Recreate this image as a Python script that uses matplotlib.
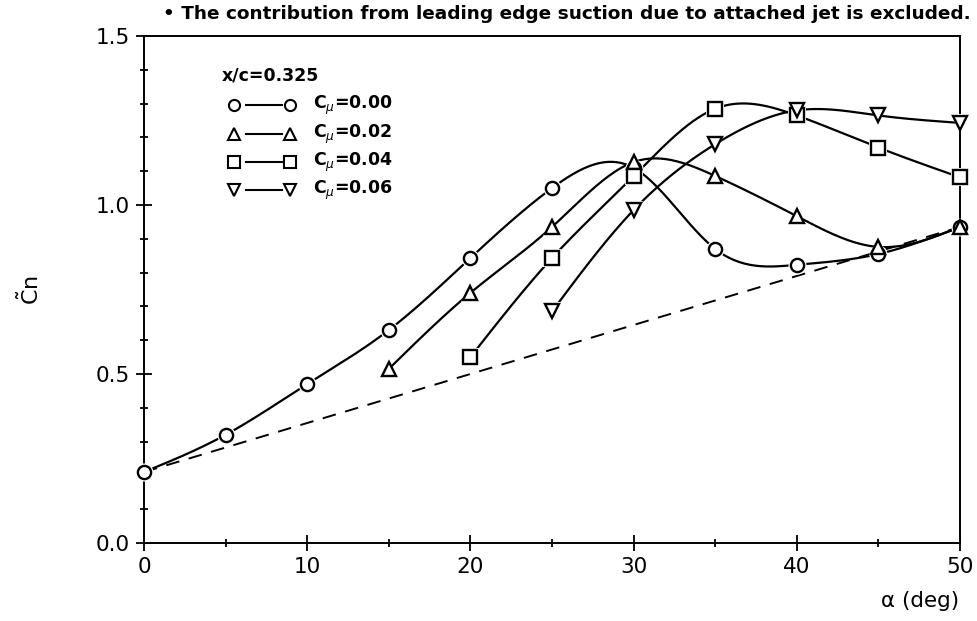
import numpy as np
import matplotlib
matplotlib.use("Agg")
import matplotlib.pyplot as plt
from matplotlib.ticker import MultipleLocator

plt.rcParams['font.family'] = ['DejaVu Sans']
plt.rcParams['mathtext.fontset'] = 'dejavusans'

# ---- data ----
alpha_c0 = [0, 5, 10, 15, 20, 25, 30, 35, 40, 45, 50]
cn_c0 = [0.21, 0.32, 0.47, 0.63, 0.843, 1.05, 1.11, 0.87, 0.823, 0.855, 0.935]
alpha_c2 = [15, 20, 25, 30, 35, 40, 45, 50]
cn_c2 = [0.515, 0.74, 0.935, 1.127, 1.086, 0.967, 0.876, 0.935]
alpha_c4 = [20, 25, 30, 35, 40, 45, 50]
cn_c4 = [0.55, 0.843, 1.085, 1.285, 1.265, 1.17, 1.082]
alpha_c6 = [25, 30, 35, 40, 45, 50]
cn_c6 = [0.685, 0.985, 1.18, 1.28, 1.265, 1.243]
alpha_ref = [0, 50]
cn_ref = [0.21, 0.935]

labels = ["0.00", "0.02", "0.04", "0.06"]
markers = ["o", "^", "s", "v"]


def natural_spline(x, y, n=300):
    x = np.asarray(x, float)
    y = np.asarray(y, float)
    m = len(x)
    h = np.diff(x)
    A = np.zeros((m, m))
    b = np.zeros(m)
    A[0, 0] = 1
    A[-1, -1] = 1
    for i in range(1, m - 1):
        A[i, i - 1] = h[i - 1]
        A[i, i] = 2 * (h[i - 1] + h[i])
        A[i, i + 1] = h[i]
        b[i] = 3 * ((y[i + 1] - y[i]) / h[i] - (y[i] - y[i - 1]) / h[i - 1])
    c = np.linalg.solve(A, b)
    xs = np.linspace(x[0], x[-1], n)
    ys = np.empty_like(xs)
    for k, xv in enumerate(xs):
        i = min(np.searchsorted(x, xv, side='right') - 1, m - 2)
        dx = xv - x[i]
        bi = (y[i + 1] - y[i]) / h[i] - h[i] * (2 * c[i] + c[i + 1]) / 3
        di = (c[i + 1] - c[i]) / (3 * h[i])
        ys[k] = y[i] + bi * dx + c[i] * dx ** 2 + di * dx ** 3
    return xs, ys


fig = plt.figure(figsize=(9.78, 6.21), dpi=100)
ax = fig.add_axes([0.1472, 0.1256, 0.8344, 0.8164])

ax.plot(alpha_ref, cn_ref, linestyle=(0, (7, 5)), color='black', lw=1.4, zorder=2)

series = [(alpha_c0, cn_c0), (alpha_c2, cn_c2), (alpha_c4, cn_c4), (alpha_c6, cn_c6)]
for (a, c), mk in zip(series, markers):
    xs, ys = natural_spline(a, c)
    ax.plot(xs, ys, color='black', lw=1.6, zorder=3)
for (a, c), mk in zip(series, markers):
    ax.plot(a, c, linestyle='none', marker=mk, ms=13, mfc='white', mec='white',
            mew=0, zorder=4, clip_on=False)
    ax.plot(a, c, linestyle='none', marker=mk, ms=9.5, mfc='white', mec='black',
            mew=1.7, zorder=5, clip_on=False)

ax.set_xlim(0, 50)
ax.set_ylim(0, 1.5)
ax.xaxis.set_major_locator(MultipleLocator(10))
ax.xaxis.set_minor_locator(MultipleLocator(5))
ax.yaxis.set_major_locator(MultipleLocator(0.5))
ax.yaxis.set_minor_locator(MultipleLocator(0.1))
ax.yaxis.set_major_formatter(matplotlib.ticker.FormatStrFormatter('%.1f'))
ax.tick_params(which='major', direction='inout', length=12, width=1.3,
               labelsize=15.5, top=False, right=False, pad=4)
ax.tick_params(which='minor', direction='inout', length=6, width=1.3,
               top=False, right=False)
for s in ax.spines.values():
    s.set_linewidth(1.4)

# axis labels
fig.text(0.031, 0.533, r'$\tilde{\mathrm{C}}\mathrm{n}$', rotation=90,
         ha='center', va='center', fontsize=16)
fig.text(0.981, 0.033, '\u03b1 (deg)', ha='right', va='center', fontsize=15.5)

# note on top
fig.text(0.580, 0.977,
         '\u2022 The contribution from leading edge suction due to attached jet is excluded.',
         ha='center', va='center', fontsize=13.3, fontweight='bold')

# legend drawn manually
def fx(px):
    return (px - 144) / 816.0

def fy(py):
    return (543 - py) / 507.0

ax.text(fx(222), fy(75), 'x/c=0.325', transform=ax.transAxes, ha='left',
        va='center', fontsize=12.5, fontweight='bold')
rows = [105, 134, 162, 190]
for py, mk, lab in zip(rows, markers, labels):
    ax.plot([fx(246), fx(282)], [fy(py), fy(py)], color='black', lw=1.5,
            transform=ax.transAxes, clip_on=False, zorder=5)
    ax.plot([fx(234), fx(290)], [fy(py), fy(py)], linestyle='none', marker=mk,
            ms=8, mfc='white', mec='black', mew=1.5, transform=ax.transAxes,
            clip_on=False, zorder=6)
    ax.text(fx(313), fy(py), r'C$_\mu$=' + lab, transform=ax.transAxes,
            ha='left', va='center', fontsize=12.5, fontweight='bold')

fig.savefig('out.png', dpi=100)
